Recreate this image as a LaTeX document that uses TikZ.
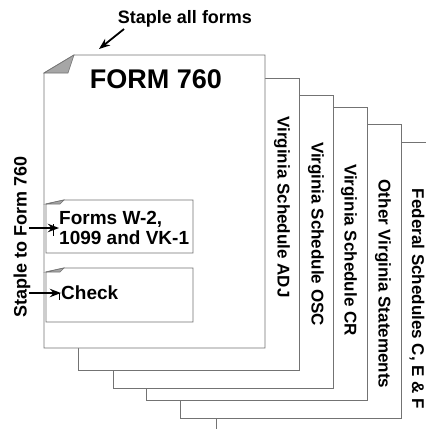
\documentclass[tikz,border=0pt]{standalone}
\usepackage{fontspec}
\setmainfont{Liberation Sans}
\usetikzlibrary{arrows.meta}

\begin{document}
\begin{tikzpicture}[x=1pt, y=1pt, >=Stealth,
    page/.style={draw=black!55, line width=0.9pt, fill=white},
    fold/.style={draw=black!55, line width=0.6pt, fill=black!35},
    side/.style={rotate=-90, font=\bfseries\fontsize{17}{17}\selectfont, inner sep=0pt},
    staple/.style={->, line width=1.8pt, black}]
    \useasboundingbox (0,0) rectangle (426,-429);
    \clip (0,0) rectangle (426,-429);

    % stack of pages, back to front
    \draw[page] (216,-142) rectangle (440,-440);
    \draw[page] (180,-124) rectangle (401,-418);
    \draw[page] (146,-107) rectangle (367,-400);
    \draw[page] (113,-95) rectangle (333,-388);
    \draw[page] (78,-78) rectangle (299,-370);
    \draw[page] (44,-348) -- (44,-73) -- (74,-55) -- (265,-55) -- (265,-348) -- cycle;
    \draw[fold] (44,-73) -- (74,-55) -- (68,-73) -- cycle;

    \node[side] (adj) at (282,-207) {Virginia Schedule ADJ};
    \node[side] (osc) at (316,-234) {Virginia Schedule OSC};
    \node[side] (cr) at (349,-250) {Virginia Schedule CR};
    \node[side] (oth) at (383,-284) {Other Virginia Statements};
    \node[side] (fed) at (417,-299) {Federal Schedules C, E \& F};

    \node[font=\bfseries\fontsize{27}{27}\selectfont] (form) at (156,-79) {FORM 760};

    % attachments
    \draw[page] (46,-253) -- (46,-204) -- (64,-200) -- (193,-200) -- (193,-253) -- cycle;
    \draw[fold] (46,-204) -- (64,-200) -- (60,-204) -- cycle;
    \draw[page] (46,-322) -- (46,-272) -- (64,-268) -- (193,-268) -- (193,-322) -- cycle;
    \draw[fold] (46,-272) -- (64,-268) -- (60,-272) -- cycle;

    \node[anchor=west, align=left, inner sep=0pt, font=\bfseries\fontsize{19}{20}\selectfont]
        (w2) at (59,-228) {Forms W-2,\\1099 and VK-1};
    \node[anchor=west, inner sep=0pt, font=\bfseries\fontsize{19}{19}\selectfont]
        (chk) at (61,-293) {Check};

    \node[font=\bfseries\fontsize{18}{18}\selectfont] (all) at (185,-19) {Staple all forms};
    \node[rotate=90, font=\bfseries\fontsize{18}{18}\selectfont] (to760) at (22,-237) {Staple to Form 760};

    % staples
    \coordinate (s1) at (29,-228);
    \coordinate (s2) at (29,-293);
    \draw[staple] (s1) -- (w2.west);
    \draw[line width=1pt] (53,-224) -- (53,-236);
    \draw[staple] (s2) -- (chk.west);
    \draw[line width=1pt] (59,-293) -- (59,-300);
    \coordinate (c1) at (99,-49);
    \draw[staple] (124,-29) -- (c1);
\end{tikzpicture}
\end{document}
